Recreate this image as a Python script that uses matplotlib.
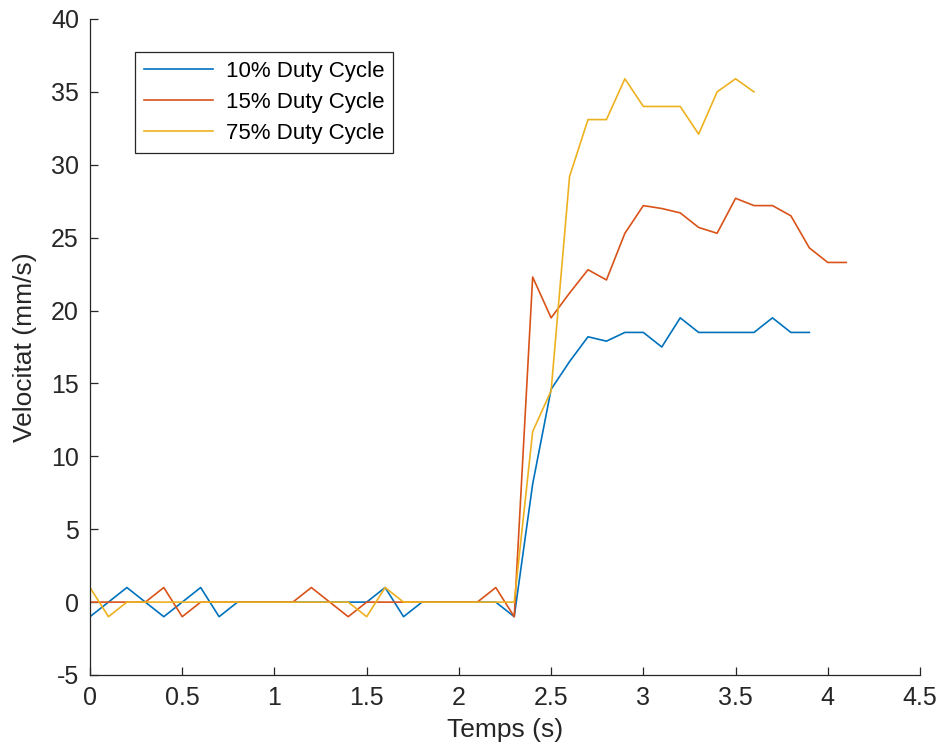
import matplotlib

matplotlib.use('Agg')
import matplotlib.pyplot as plt
import numpy as np

# temps (s) i velocitat (mm/s)
temps_10 = np.round(np.arange(0, 40) * 0.1, 1)
vel_10 = [-1, 0, 1, 0, -1, 0, 1, -1, 0, 0, 0, 0, 0, 0, 0, 0, 1, -1, 0, 0, 0, 0, 0, -1,
          8.1, 14.6, 16.5, 18.2, 17.9, 18.5, 18.5, 17.5, 19.5, 18.5, 18.5, 18.5, 18.5,
          19.5, 18.5, 18.5]

temps_15 = np.round(np.arange(0, 42) * 0.1, 1)
vel_15 = [0, 0, 0, 0, 1, -1, 0, 0, 0, 0, 0, 0, 1, 0, -1, 0, 0, 0, 0, 0, 0, 0, 1, -1,
          22.3, 19.5, 21.2, 22.8, 22.1, 25.3, 27.2, 27.0, 26.7, 25.7, 25.3, 27.7, 27.2,
          27.2, 26.5, 24.3, 23.3, 23.3]

temps_75 = np.round(np.arange(0, 37) * 0.1, 1)
vel_75 = [1, -1, 0, 0, 0, 0, 0, 0, 0, 0, 0, 0, 0, 0, 0, -1, 1, 0, 0, 0, 0, 0, 0, 0,
          11.7, 14.5, 29.2, 33.1, 33.1, 35.9, 34.0, 34.0, 34.0, 32.1, 35.0, 35.9, 35.0]

etiquetes = ['10% Duty Cycle', '15% Duty Cycle', '75% Duty Cycle']
colors = ['#0072BD', '#D95319', '#EDB120']

plt.rcParams['font.family'] = ['Liberation Sans', 'DejaVu Sans']
plt.rcParams['axes.unicode_minus'] = False
gris = '#262626'

fig = plt.figure(figsize=(9.43, 7.56), dpi=100)
ax = fig.add_axes([90 / 943, 1 - 675 / 756, 830 / 943, 656 / 756])

ax.plot(temps_10, vel_10, color=colors[0], lw=1.2, label=etiquetes[0])
ax.plot(temps_15, vel_15, color=colors[1], lw=1.2, label=etiquetes[1])
ax.plot(temps_75, vel_75, color=colors[2], lw=1.2, label=etiquetes[2])

ax.set_xlim(0, 4.5)
ax.set_ylim(-5, 40)
ax.set_xticks(np.arange(0, 4.51, 0.5))
ax.set_xticklabels(['0', '0.5', '1', '1.5', '2', '2.5', '3', '3.5', '4', '4.5'])
ax.set_yticks(np.arange(-5, 41, 5))

ax.spines['top'].set_visible(False)
ax.spines['right'].set_visible(False)
for s in ['left', 'bottom']:
    ax.spines[s].set_color(gris)
    ax.spines[s].set_linewidth(0.9)
ax.tick_params(direction='in', length=6, width=0.9, colors=gris, labelsize=18, pad=8)

ax.set_xlabel('Temps (s)', fontsize=19, color=gris, labelpad=6)
ax.set_ylabel('Velocitat (mm/s)', fontsize=19, color=gris, labelpad=10)

leg = ax.legend(loc='upper left', bbox_to_anchor=(0.054, 0.95), borderaxespad=0,
                fontsize=16, handlelength=3.1, fancybox=False, framealpha=1,
                edgecolor=gris, borderpad=0.4, labelspacing=0.45, handletextpad=0.6)
leg.get_frame().set_linewidth(0.9)

fig.savefig('out.png', dpi=100)
